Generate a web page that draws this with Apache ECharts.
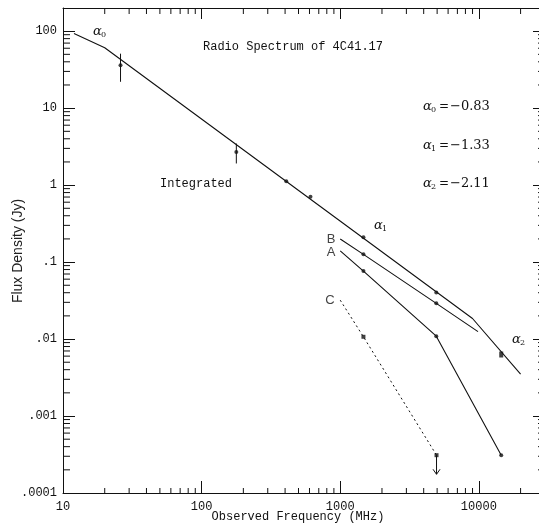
<!DOCTYPE html>
<html><head><meta charset="utf-8">
<script src="https://cdn.jsdelivr.net/npm/echarts@6/dist/echarts.min.js"></script>
<style>html,body{margin:0;padding:0;background:#fff}#c{width:539px;height:527px}</style>
</head><body><div id="c"></div>
<script>
// ---- data ----
const xTickLabels = ['10', '100', '1000', '10000'];          // 10^1 .. 10^4
const yTickLabels = ['.0001', '.001', '.01', '.1', '1', '10', '100']; // 10^-4 .. 10^2
const minorMultipliers = [2, 3, 4, 5, 6, 7, 8, 9];
const xDecades = [10, 100, 1000, 10000];
const yDecades = [0.0001, 0.001, 0.01, 0.1, 1, 10];

const integratedLine = [[12, 93], [20, 61], [9000, 0.0185], [20000, 0.0035]];
const integratedPoints = [[26, 36], [178, 2.7], [408, 1.12], [610, 0.705], [1470, 0.21], [4930, 0.0404]];
const integrated15GHz = [[14500, 0.0063]];
const integratedErrors = [[26, 22, 51], [178, 1.91, 3.47]];

const lineB = [[1000, 0.199], [1470, 0.126], [4930, 0.0291], [9860, 0.0125]];
const pointsB = [[1470, 0.126], [4930, 0.0291]];
const lineA = [[1000, 0.14], [1470, 0.0764], [4930, 0.0109], [14500, 0.00031]];
const pointsA = [[1470, 0.0764], [4930, 0.0109], [14500, 0.00031]];
const lineC = [[1000, 0.032], [1470, 0.0107], [4950, 0.00031]];
const pointsC = [[1470, 0.0107], [4950, 0.00031]];
const upperLimitC = [[4950, 0.00031, 0.000175]];

const indexNames = ['0', '1', '2'];
const indexValues = ['−0.83', '−1.33', '−2.11'];

// ---- build ----
const minorTicks = [];
xDecades.forEach(d => minorMultipliers.forEach(m => { const v = d * m; if (v < 30000) minorTicks.push([v, 1, 0]); }));
yDecades.forEach(d => minorMultipliers.forEach(m => { minorTicks.push([10, d * m, 1]); }));

function decadeLabel(v, labels, firstExp) {
  const l = Math.log10(v), k = Math.round(l);
  if (Math.abs(l - k) > 1e-6) return '';
  return labels[k - firstExp] || '';
}

const MONO = '"Liberation Mono", "DejaVu Sans Mono", monospace';
const SERIF = '"DejaVu Serif", "Liberation Serif", serif';
const SANS = '"Liberation Sans", Arial, sans-serif';
const black = '#111';

function axisCommon(extra) {
  return Object.assign({
    type: 'log', logBase: 10,
    axisLine: { show: true, lineStyle: { color: black, width: 1 } },
    axisTick: { show: true, inside: true, length: 12, lineStyle: { color: black, width: 1 } },
    minorTick: { show: false },
    splitLine: { show: false }
  }, extra);
}

const chart = echarts.init(document.getElementById('c'), null, { renderer: 'canvas' });
const lineStyle = { color: black, width: 1.1 };

function txt(x, y, text, font, extra) {
  return { type: 'text', x, y, style: Object.assign({ text, font, fill: black, align: 'left', verticalAlign: 'middle' }, extra || {}) };
}
function alpha(x, y, sub) {
  return [txt(x, y, 'α', 'italic 13px ' + SERIF), txt(x + 8, y + 3, sub, '8px ' + SERIF)];
}

const graphics = [
  txt(293, 47, 'Radio Spectrum of 4C41.17', '12px ' + MONO, { align: 'center' }),
  txt(196, 184, 'Integrated', '12px ' + MONO, { align: 'center' }),
  txt(298, 517, 'Observed Frequency (MHz)', '12px ' + MONO, { align: 'center' }),
  Object.assign(txt(18, 251, 'Flux Density (Jy)', '14px ' + SANS, { align: 'center', fill: '#222' }), { rotation: Math.PI / 2 }),
  ...alpha(93, 32, '0'),
  ...alpha(374, 226, '1'),
  ...alpha(512, 340, '2'),
  txt(331, 239, 'B', '13px ' + SANS, { align: 'center', fill: '#444' }),
  txt(331, 252, 'A', '13px ' + SANS, { align: 'center', fill: '#444' }),
  txt(330, 300, 'C', '13px ' + SANS, { align: 'center', fill: '#444' })
];
const listY = [107, 146, 184];
indexNames.forEach((n, i) => {
  graphics.push(...alpha(423, listY[i], n));
  graphics.push(txt(439, listY[i], '=', '12px ' + SERIF));
  graphics.push(txt(450, listY[i], indexValues[i], '13px ' + SERIF));
});

chart.setOption({
  backgroundColor: '#fff',
  animation: false,
  grid: { left: 63, right: -6, top: 8, bottom: 34, containLabel: false, outerBoundsMode: 'none' },
  xAxis: [
    axisCommon({ min: 10, max: 30000, position: 'bottom',
      axisLabel: { show: true, formatter: v => decadeLabel(v, xTickLabels, 1), fontFamily: MONO, fontSize: 12, color: black, margin: 8 } }),
    axisCommon({ min: 10, max: 30000, position: 'top', axisTick: { show: true, inside: true, length: 11, lineStyle: { color: black } }, axisLabel: { show: false } })
  ],
  yAxis: [
    axisCommon({ min: 0.0001, max: 200, position: 'left',
      axisLabel: { show: true, formatter: v => decadeLabel(v, yTickLabels, -4), fontFamily: MONO, fontSize: 12, color: black, margin: 6 } }),
    axisCommon({ min: 0.0001, max: 200, position: 'right', axisLabel: { show: false } })
  ],
  series: [
    { type: 'line', data: integratedLine, symbol: 'none', lineStyle, z: 3 },
    { type: 'scatter', data: integratedPoints, symbol: 'circle', symbolSize: 4, itemStyle: { color: black }, z: 4 },
    { type: 'scatter', data: integrated15GHz, symbol: 'rect', symbolSize: [4, 6], itemStyle: { color: black }, z: 4 },
    { type: 'custom', data: integratedErrors, encode: { x: 0, y: [1, 2] }, z: 4,
      renderItem: (p, api) => {
        const a = api.coord([api.value(0), api.value(1)]);
        const b = api.coord([api.value(0), api.value(2)]);
        return { type: 'line', shape: { x1: a[0], y1: a[1], x2: b[0], y2: b[1] }, style: { stroke: black, lineWidth: 1 } };
      } },
    { type: 'line', data: lineB, symbol: 'none', lineStyle, z: 3 },
    { type: 'scatter', data: pointsB, symbol: 'circle', symbolSize: 4, itemStyle: { color: black }, z: 4 },
    { type: 'line', data: lineA, symbol: 'none', lineStyle, z: 3 },
    { type: 'scatter', data: pointsA, symbol: 'circle', symbolSize: 4, itemStyle: { color: black }, z: 4 },
    { type: 'line', data: lineC, symbol: 'none', lineStyle: { color: black, width: 1, type: [2, 3] }, z: 3 },
    { type: 'scatter', data: pointsC, symbol: 'rect', symbolSize: 4, itemStyle: { color: black }, z: 4 },
    { type: 'custom', data: upperLimitC, encode: { x: 0, y: [1, 2] }, z: 4,
      renderItem: (p, api) => {
        const a = api.coord([api.value(0), api.value(1)]);
        const b = api.coord([api.value(0), api.value(2)]);
        return { type: 'group', children: [
          { type: 'line', shape: { x1: a[0], y1: a[1], x2: b[0], y2: b[1] }, style: { stroke: black, lineWidth: 1 } },
          { type: 'polyline', shape: { points: [[b[0] - 3.5, b[1] - 5], [b[0], b[1]], [b[0] + 3.5, b[1] - 5]] }, style: { stroke: black, lineWidth: 1, fill: 'none' } }
        ] };
      } },
    { type: 'custom', data: minorTicks, encode: { x: 0, y: 1 }, z: 2, silent: true, clip: false,
      renderItem: (p, api) => {
        const cs = p.coordSys;
        const kind = api.value(2);
        if (kind === 0) {
          const x = api.coord([api.value(0), 1])[0];
          return { type: 'group', children: [
            { type: 'line', shape: { x1: x, y1: cs.y + cs.height, x2: x, y2: cs.y + cs.height - 5 }, style: { stroke: black, lineWidth: 1 } },
            { type: 'line', shape: { x1: x, y1: cs.y, x2: x, y2: cs.y + 6 }, style: { stroke: black, lineWidth: 1 } }
          ] };
        }
        const y = api.coord([10, api.value(1)])[1];
        return { type: 'group', children: [
          { type: 'line', shape: { x1: cs.x, y1: y, x2: cs.x + 7, y2: y }, style: { stroke: black, lineWidth: 1 } },
          { type: 'line', shape: { x1: cs.x + cs.width, y1: y, x2: cs.x + cs.width - 7, y2: y }, style: { stroke: black, lineWidth: 1 } }
        ] };
      } }
  ],
  graphic: graphics
});
</script>
</body></html>
